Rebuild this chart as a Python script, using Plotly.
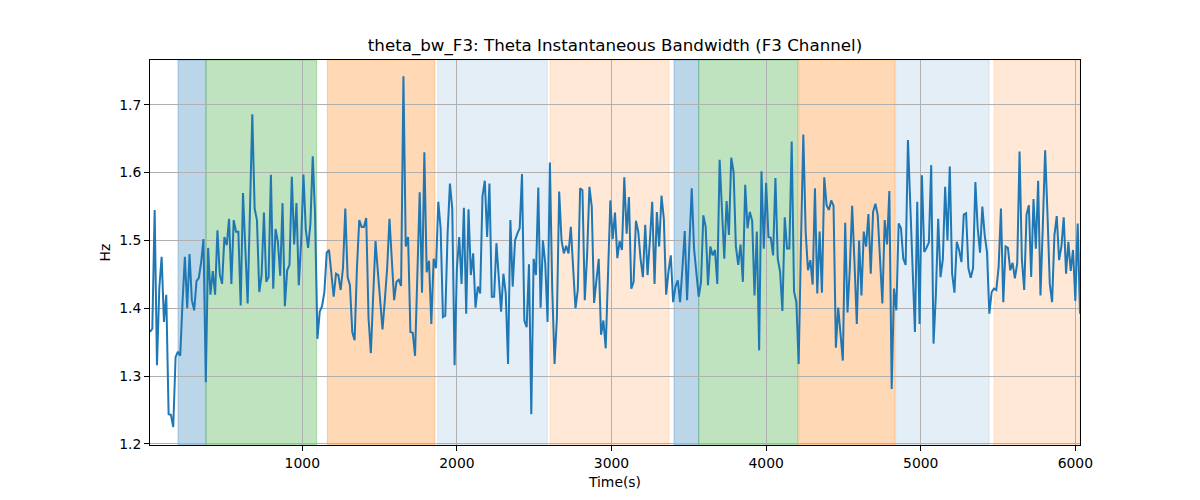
import numpy as np
import plotly.graph_objects as go

title = "theta_bw_F3: Theta Instantaneous Bandwidth (F3 Channel)"

t_start, t_end = 15, 6030

bw_values = [
    # ~15 - 800 s
    1.365, 1.37, 1.545, 1.316, 1.43, 1.476, 1.38, 1.42, 1.244, 1.243, 1.225, 1.328, 1.336, 1.33, 1.41, 1.476,
    1.40, 1.48, 1.412, 1.397, 1.44, 1.445, 1.468, 1.502, 1.291, 1.489, 1.42, 1.455, 1.42, 1.515, 1.45, 1.436,
    1.505, 1.493, 1.532, 1.436, 1.53, 1.513, 1.513, 1.404, 1.57, 1.49, 1.407, 1.546, 1.686, 1.547, 1.53, 1.424,
    1.449, 1.541, 1.439, 1.446, 1.597,
    # ~810 - 1565 s
    1.429, 1.517, 1.498, 1.448, 1.555, 1.403, 1.456, 1.464, 1.594, 1.494, 1.555, 1.434, 1.498, 1.597, 1.516, 1.489,
    1.525, 1.624, 1.537, 1.355, 1.395, 1.403, 1.424, 1.482, 1.486, 1.446, 1.417, 1.451, 1.449, 1.427, 1.459, 1.547,
    1.446, 1.434, 1.365, 1.353, 1.459, 1.53, 1.52, 1.52, 1.533, 1.385, 1.334, 1.419, 1.499, 1.454, 1.41, 1.369,
    1.412, 1.459, 1.532,
    # ~1580 - 2330 s
    1.473, 1.412, 1.439, 1.442, 1.433, 1.742, 1.491, 1.505, 1.365, 1.364, 1.33, 1.466, 1.571, 1.423, 1.63, 1.453,
    1.47, 1.377, 1.473, 1.459, 1.557, 1.518, 1.387, 1.389, 1.51, 1.584, 1.547, 1.316, 1.459, 1.505, 1.436, 1.548,
    1.392, 1.546, 1.449, 1.481, 1.401, 1.432, 1.422, 1.565, 1.588, 1.505, 1.584, 1.417, 1.417, 1.496, 1.451, 1.395,
    1.451, 1.422, 1.318,
    # ~2345 - 3115 s
    1.53, 1.432, 1.5, 1.51, 1.518, 1.598, 1.382, 1.372, 1.465, 1.244, 1.473, 1.449, 1.578, 1.401, 1.5, 1.466,
    1.38, 1.615, 1.429, 1.318, 1.385, 1.572, 1.5, 1.481, 1.492, 1.481, 1.52, 1.459, 1.40, 1.427, 1.577, 1.574,
    1.412, 1.478, 1.579, 1.55, 1.408, 1.441, 1.473, 1.361, 1.382, 1.341, 1.45, 1.559, 1.502, 1.541, 1.474, 1.499,
    1.486, 1.593, 1.51, 1.564,
    # ~3130 - 3880 s
    1.429, 1.439, 1.529, 1.513, 1.473, 1.446, 1.523, 1.449, 1.5, 1.557, 1.436, 1.542, 1.491, 1.566, 1.532, 1.42,
    1.454, 1.478, 1.409, 1.432, 1.441, 1.409, 1.459, 1.514, 1.412, 1.493, 1.577, 1.488, 1.454, 1.417, 1.439, 1.537,
    1.52, 1.434, 1.491, 1.478, 1.486, 1.436, 1.619, 1.537, 1.473, 1.558, 1.508, 1.622, 1.601, 1.491, 1.464, 1.494,
    1.439, 1.582, 1.518,
    # ~3895 - 4660 s
    1.542, 1.529, 1.419, 1.513, 1.338, 1.602, 1.488, 1.585, 1.505, 1.504, 1.478, 1.592, 1.473, 1.454, 1.396, 1.534,
    1.488, 1.488, 1.646, 1.425, 1.409, 1.318, 1.498, 1.656, 1.513, 1.456, 1.471, 1.435, 1.577, 1.422, 1.513, 1.423,
    1.593, 1.552, 1.545, 1.559, 1.551, 1.342, 1.401, 1.367, 1.323, 1.526, 1.394, 1.459, 1.551, 1.468, 1.377, 1.5,
    1.419, 1.513, 1.491, 1.539,
    # ~4675 - 5445 s
    1.451, 1.542, 1.554, 1.537, 1.468, 1.407, 1.53, 1.494, 1.573, 1.281, 1.429, 1.397, 1.525, 1.518, 1.473, 1.464,
    1.648, 1.557, 1.459, 1.365, 1.557, 1.377, 1.596, 1.483, 1.489, 1.497, 1.611, 1.348, 1.419, 1.532, 1.446, 1.472,
    1.579, 1.5, 1.609, 1.451, 1.423, 1.498, 1.486, 1.468, 1.538, 1.54, 1.459, 1.445, 1.459, 1.586, 1.518, 1.482,
    1.55, 1.508, 1.483, 1.392,
    # ~5460 - 6030 s
    1.424, 1.429, 1.427, 1.461, 1.547, 1.409, 1.491, 1.489, 1.456, 1.467, 1.444, 1.466, 1.631, 1.472, 1.427, 1.538,
    1.552, 1.446, 1.561, 1.488, 1.588, 1.419, 1.52, 1.633, 1.54, 1.436, 1.409, 1.508, 1.536, 1.471, 1.491, 1.534,
    1.451, 1.498, 1.455, 1.486, 1.411, 1.525, 1.392,
]

# sample times (regular sampling across the recording)
time_s = np.linspace(t_start, t_end, len(bw_values))

# shaded segments
span_start = [196, 377, 1162, 1876, 2602, 3404, 3564, 4211, 4838, 5474]
span_end = [377, 1093, 1858, 2585, 3372, 3564, 4206, 4833, 5442, 6030]
span_color = [
    "rgba(31,119,180,0.3)", "rgba(44,160,44,0.3)", "rgba(255,127,14,0.3)",
    "rgba(31,119,180,0.12)", "rgba(255,127,14,0.17)",
    "rgba(31,119,180,0.3)", "rgba(44,160,44,0.3)", "rgba(255,127,14,0.3)",
    "rgba(31,119,180,0.12)", "rgba(255,127,14,0.17)",
]

x_ticks = [1000, 2000, 3000, 4000, 5000, 6000]
y_ticks = [1.2, 1.3, 1.4, 1.5, 1.6, 1.7]
y_range = [1.1985, 1.766]

fig = go.Figure()
fig.add_trace(go.Scatter(x=time_s, y=bw_values, mode="lines",
                         line=dict(color="#1f77b4", width=2), showlegend=False))

for s, e, c in zip(span_start, span_end, span_color):
    fig.add_shape(type="rect", xref="x", yref="paper", x0=s, x1=e, y0=0, y1=1,
                  fillcolor=c, line=dict(color=c, width=1), layer="below")

font = "DejaVu Sans, sans-serif"
axis_common = dict(
    showline=True, mirror=True, linecolor="black", linewidth=1,
    ticks="outside", ticklen=5, tickcolor="black", tickwidth=1,
    showgrid=True, gridcolor="#b0b0b0", gridwidth=0.8, zeroline=False,
    tickfont=dict(family=font, size=13.9, color="black"),
)

# the page body adds an 8 px offset; figure sized to fit the 1200x500 window
W, H = 1192, 492
fig.update_layout(
    width=W, height=H,
    margin=dict(l=142, r=120, t=52, b=55),
    plot_bgcolor="white", paper_bgcolor="white",
    title=dict(text=title, x=607 / W, xref="container", xanchor="center",
               y=1 - 37 / H, yref="container", yanchor="middle",
               font=dict(family=font, size=16.7, color="black")),
    xaxis=dict(range=[t_start, t_end], tickvals=x_ticks,
               title=dict(text="Time(s)", standoff=7,
                          font=dict(family=font, size=13.9, color="black")),
               **axis_common),
    yaxis=dict(range=y_range, tickvals=y_ticks, tickformat=".1f",
               title=dict(text="Hz", standoff=5,
                          font=dict(family=font, size=13.9, color="black")),
               **axis_common),
)

fig.write_html("out.html")
